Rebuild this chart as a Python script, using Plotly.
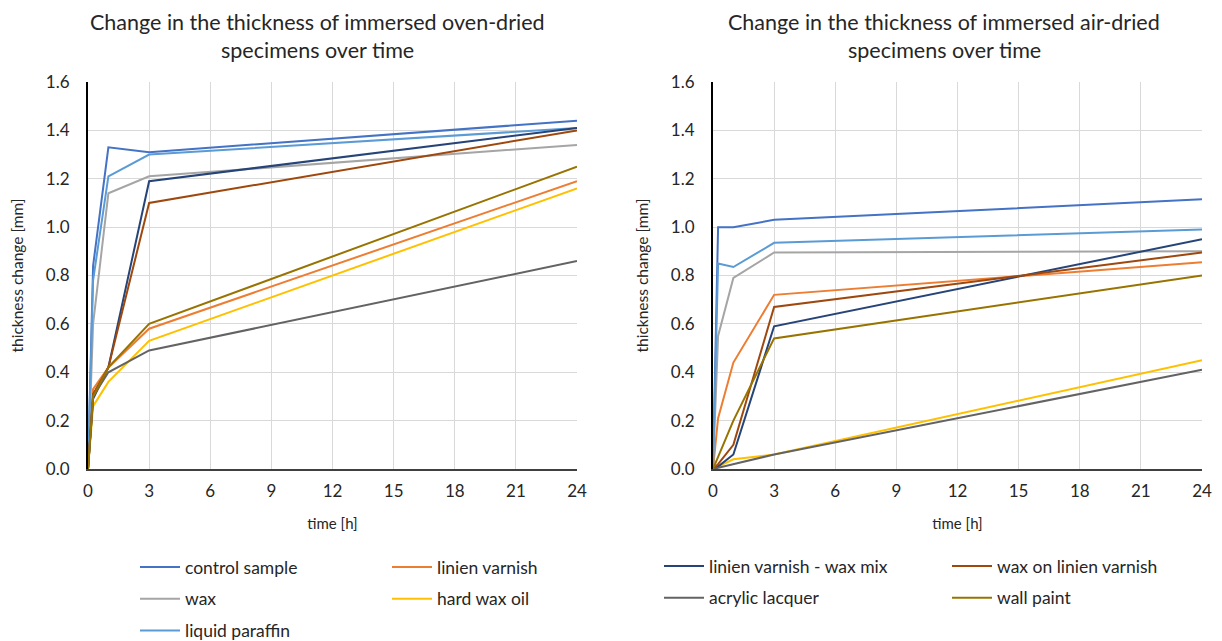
import plotly.graph_objects as go

# ---------------- data ----------------
time_h = [0, 0.25, 1, 3, 24]

series_names = [
    "control sample", "linien varnish", "wax", "hard wax oil", "liquid paraffin",
    "linien varnish - wax mix", "wax on linien varnish", "acrylic lacquer", "wall paint",
]
series_colors = [
    "#4472C4", "#ED7D31", "#A5A5A5", "#FFC000", "#5B9BD5",
    "#264478", "#9E480E", "#636363", "#997300",
]

# oven-dried specimens (left chart)
oven_control = [0, 0.84, 1.33, 1.31, 1.44]
oven_linien_varnish = [0, 0.33, 0.42, 0.58, 1.19]
oven_wax = [0, 0.60, 1.14, 1.21, 1.34]
oven_hard_wax_oil = [0, 0.26, 0.36, 0.53, 1.16]
oven_liquid_paraffin = [0, 0.78, 1.21, 1.30, 1.41]
oven_lv_wax_mix = [0, 0.29, 0.42, 1.19, 1.41]
oven_wax_on_lv = [0, 0.31, 0.42, 1.10, 1.40]
oven_acrylic = [0, 0.30, 0.40, 0.49, 0.86]
oven_wall_paint = [0, 0.30, 0.42, 0.60, 1.25]

# air-dried specimens (right chart)
air_control = [0, 1.00, 1.00, 1.03, 1.115]
air_linien_varnish = [0, 0.21, 0.44, 0.72, 0.855]
air_wax = [0, 0.55, 0.79, 0.895, 0.90]
air_hard_wax_oil = [0, 0.01, 0.04, 0.06, 0.45]
air_liquid_paraffin = [0, 0.85, 0.835, 0.935, 0.99]
air_lv_wax_mix = [0, 0.01, 0.06, 0.59, 0.95]
air_wax_on_lv = [0, 0.02, 0.10, 0.67, 0.895]
air_acrylic = [0, 0.005, 0.02, 0.06, 0.41]
air_wall_paint = [0, 0.05, 0.20, 0.54, 0.80]

oven_series = [oven_control, oven_linien_varnish, oven_wax, oven_hard_wax_oil,
               oven_liquid_paraffin, oven_lv_wax_mix, oven_wax_on_lv,
               oven_acrylic, oven_wall_paint]
air_series = [air_control, air_linien_varnish, air_wax, air_hard_wax_oil,
              air_liquid_paraffin, air_lv_wax_mix, air_wax_on_lv,
              air_acrylic, air_wall_paint]

x_ticks = [0, 3, 6, 9, 12, 15, 18, 21, 24]
y_ticks = [0.0, 0.2, 0.4, 0.6, 0.8, 1.0, 1.2, 1.4, 1.6]

title_left = ["Change in the thickness of immersed oven-dried", "specimens over time"]
title_right = ["Change in the thickness of immersed air-dried", "specimens over time"]

# legend assignment: first five entries under left chart, last four under right
legend_of = ["legend", "legend2", "legend", "legend2", "legend",
             "legend3", "legend4", "legend3", "legend4"]

FONT = "Lato"
TXT = "#262626"
W, H = 1222, 641

fig = go.Figure()

for i, name in enumerate(series_names):
    fig.add_trace(go.Scatter(
        x=time_h, y=oven_series[i], name=name, mode="lines",
        line=dict(color=series_colors[i], width=2),
        xaxis="x", yaxis="y",
        showlegend=(i < 5), legend=legend_of[i], legendgroup=name,
    ))
for i, name in enumerate(series_names):
    fig.add_trace(go.Scatter(
        x=time_h, y=air_series[i], name=name, mode="lines",
        line=dict(color=series_colors[i], width=2),
        xaxis="x2", yaxis="y2",
        showlegend=(i >= 5), legend=legend_of[i], legendgroup=name + "_r",
    ))

def px(xp):
    return xp / W

def py(yp):
    return (H - yp) / H

ax_common = dict(
    range=[0, 24], tickvals=x_ticks, ticks="", showgrid=True,
    gridcolor="#D9D9D9", gridwidth=1, zeroline=False,
    showline=True, linecolor="#404040", linewidth=2,
    tickfont=dict(family=FONT, size=17, color=TXT),
    ticklabelstandoff=6, automargin=False,
    title=dict(text="time [h]", font=dict(family=FONT, size=15, color=TXT), standoff=18),
)
ay_common = dict(
    range=[0, 1.6], tickvals=y_ticks, tickformat=".1f", ticks="",
    showgrid=True, gridcolor="#D9D9D9", gridwidth=1, zeroline=False,
    showline=True, linecolor="#000000", linewidth=2,
    tickfont=dict(family=FONT, size=17, color=TXT),
    ticklabelstandoff=13, automargin=False,
    title=dict(text="thickness change [mm]", font=dict(family=FONT, size=15.5, color=TXT), standoff=18),
)

y_dom = [py(469), py(82)]
fig.update_layout(
    width=W, height=H,
    margin=dict(l=0, r=0, t=0, b=0, autoexpand=False),
    paper_bgcolor="white", plot_bgcolor="white",
    font=dict(family=FONT, color=TXT),
    xaxis=dict(domain=[px(88), px(577)], anchor="y", **ax_common),
    yaxis=dict(domain=y_dom, anchor="x", **ay_common),
    xaxis2=dict(domain=[px(713), px(1202)], anchor="y2", **ax_common),
    yaxis2=dict(domain=y_dom, anchor="x2", **ay_common),
)

leg_common = dict(
    orientation="v", xanchor="left", yanchor="top",
    font=dict(family=FONT, size=17.5, color=TXT),
    bgcolor="rgba(0,0,0,0)", tracegroupgap=6, itemwidth=40,
    traceorder="grouped",
)
fig.update_layout(
    legend=dict(x=px(135), y=py(549), **leg_common),
    legend2=dict(x=px(387), y=py(549), **leg_common),
    legend3=dict(x=px(659), y=py(548), **leg_common),
    legend4=dict(x=px(947), y=py(548), **leg_common),
)

annotations = []
for cx, lines in [(px(317), title_left), (px(944), title_right)]:
    for k, t in enumerate(lines):
        annotations.append(dict(
            text=t, x=cx, y=py(22 + 28 * k), xref="paper", yref="paper",
            xanchor="center", yanchor="middle", showarrow=False,
            font=dict(family=FONT, size=21.5, color=TXT),
        ))
fig.update_layout(annotations=annotations)

fig.write_html("out.html")
